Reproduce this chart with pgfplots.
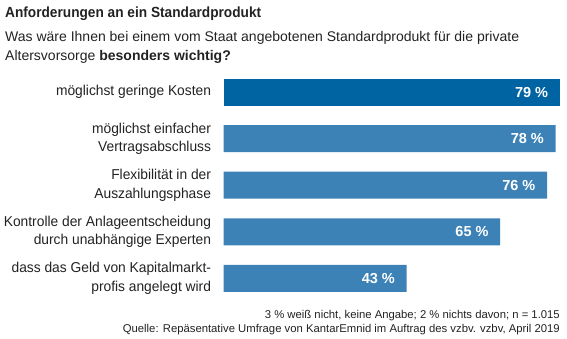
\documentclass[border=0pt]{standalone}
\usepackage{pgfplots}
\pgfplotsset{compat=1.18}
\usepackage{fontspec}
\setmainfont{Liberation Sans}
\newfontfamily\titlefont{Liberation Sans}[FakeStretch=0.93]
\newfontfamily\labelfont{Liberation Sans}[FakeStretch=0.965]
\definecolor{darkbar}{HTML}{0063A2}
\definecolor{lightbar}{HTML}{3D82B7}
\definecolor{txt}{HTML}{222222}
\begin{document}
\begin{tikzpicture}[x=1bp,y=1bp]
\useasboundingbox (0,0) rectangle (567,-338);
\node[anchor=base west, inner sep=0pt, font=\titlefont\fontsize{14.7bp}{17bp}\selectfont\bfseries, text=txt] at (5,-17) {Anforderungen an ein Standardprodukt};
\node[anchor=base west, inner sep=0pt, font=\fontsize{14bp}{16bp}\selectfont, text=txt] at (5,-41) {Was wäre Ihnen bei einem vom Staat angebotenen Standardprodukt für die private};
\node[anchor=base west, inner sep=0pt, font=\fontsize{14bp}{16bp}\selectfont, text=txt] at (5,-60) {Altersvorsorge \textbf{besonders wichtig?}};
\begin{axis}[
  at={(223.5bp,-68.7bp)}, anchor=north west,
  scale only axis, width=336.3bp, height=233bp,
  xmin=0, xmax=79, ymin=-0.5, ymax=4.5, y dir=reverse,
  axis line style={draw=none}, xtick=\empty,
  ytick={0,1,2,3,4},
  yticklabels={möglichst geringe Kosten, möglichst einfacher\\Vertragsabschluss, Flexibilität in der\\Auszahlungsphase, Kontrolle der Anlageentscheidung\\durch unabhängige Experten, dass das Geld von Kapitalmarkt-\\profis angelegt wird},
  yticklabel style={align=right, text=txt, font=\labelfont\fontsize{14.3bp}{18.5bp}\selectfont, inner sep=0pt, xshift=-12.3bp},
  major tick length=0pt,
  /pgf/number format/assume math mode=true,
  xbar, bar width=27bp, bar shift=0pt,
  nodes near coords={\pgfmathprintnumber{\pgfplotspointmeta} \%},
  every node near coord/.style={anchor=east, xshift=-11.5bp, inner sep=0pt, text=white, font=\fontsize{14.5bp}{16bp}\selectfont\bfseries},
  clip=false,
]
\addplot[fill=darkbar, draw=none] coordinates {(79,0)};
\addplot[fill=lightbar, draw=none] coordinates {(78,1) (76,2) (65,3) (43,4)};
\end{axis}
\node[anchor=base east, inner sep=0pt, font=\fontsize{11.3bp}{13bp}\selectfont, text=txt] at (560,-318.5) {3 \% weiß nicht, keine Angabe; 2 \% nichts davon; n = 1.015};
\node[anchor=base east, inner sep=0pt, font=\fontsize{11.3bp}{13bp}\selectfont, text=txt] at (560,-332) {Quelle: Repäsentative Umfrage von KantarEmnid im Auftrag des vzbv. vzbv, April 2019};
\end{tikzpicture}
\end{document}
